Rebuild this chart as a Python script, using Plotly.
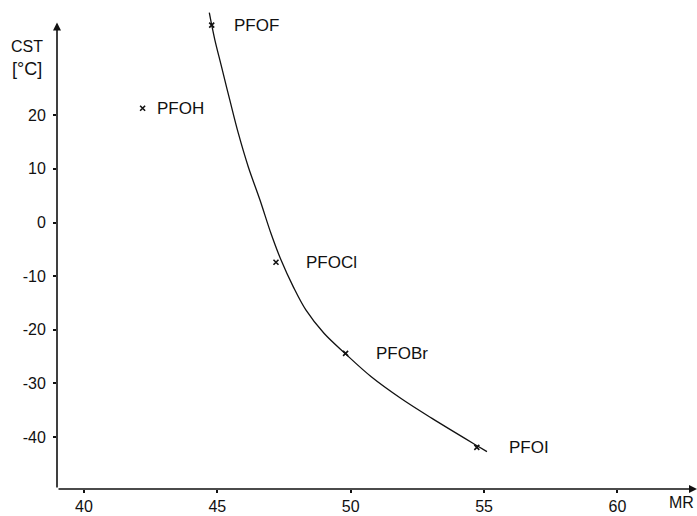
import plotly.graph_objects as go

# Measured compounds (MR, CST in °C)
compounds = ["PFOF", "PFOH", "PFOCl", "PFOBr", "PFOI"]
mr_values = [44.79, 42.20, 47.20, 49.81, 54.73]
cst_values = [36.8, 21.3, -7.4, -24.4, -41.9]

# Hand-drawn trend curve
curve_mr = [44.70, 44.79, 44.91, 45.16, 45.47, 45.79, 46.16, 46.60, 47.01, 47.39,
            47.85, 48.32, 49.00, 49.79, 50.76, 51.89, 53.05, 54.74, 55.11]
curve_cst = [39.1, 36.8, 34.0, 29.0, 22.8, 16.6, 10.4, 4.2, -2.0, -7.0,
             -12.0, -16.3, -20.65, -24.4, -28.7, -32.8, -36.5, -41.6, -42.7]

x_tickvals = [40, 45, 50, 55, 60]
x_ticktext = ["40", "45", "50", "55", "60"]
y_tickvals = [20, 10, 0, -10, -20, -30, -40]
y_ticktext = ["20", "10", "0", "-10", "-20", "-30", "-40"]

# style / placement (pixel offsets of labels from their marker)
label_xshift = [20, 12, 28, 28, 30]
FONT = "Liberation Sans, Arial, sans-serif"
INK = "#111111"
X_MIN, X_MAX = 38.99, 62.985
Y_MIN, Y_MAX = -49.67, 41.10
Y_AXIS_TOP = 37.3

fig = go.Figure()
fig.add_trace(go.Scatter(x=curve_mr, y=curve_cst, mode="lines",
                         line=dict(color=INK, width=1.3, shape="spline", smoothing=1.0),
                         hoverinfo="skip", showlegend=False))
fig.add_trace(go.Scatter(x=mr_values, y=cst_values, mode="markers",
                         marker=dict(symbol="x-thin", size=5, line=dict(color=INK, width=1.6)),
                         showlegend=False))

for name, xv, yv, dx in zip(compounds, mr_values, cst_values, label_xshift):
    fig.add_annotation(x=xv, y=yv, text=name, showarrow=False, xanchor="left",
                       yanchor="middle", xshift=dx, font=dict(family=FONT, size=17, color=INK))

# axis lines with arrow heads
fig.add_annotation(x=X_MIN, y=Y_AXIS_TOP, ax=X_MIN, ay=Y_MIN, xref="x", yref="y",
                   axref="x", ayref="y", showarrow=True, arrowhead=2, arrowsize=1,
                   arrowwidth=1.6, arrowcolor=INK, text="")
fig.add_annotation(x=X_MAX, y=Y_MIN, ax=X_MIN, ay=Y_MIN, xref="x", yref="y",
                   axref="x", ayref="y", showarrow=True, arrowhead=2, arrowsize=1,
                   arrowwidth=1.6, arrowcolor=INK, text="")

# axis titles
fig.add_annotation(x=62.42, y=Y_MIN, yshift=-13, text="MR", showarrow=False,
                   font=dict(family=FONT, size=16, color=INK))
fig.add_annotation(x=-0.047, y=0.9076, xref="paper", yref="paper", text="CST",
                   xanchor="center", yanchor="middle",
                   showarrow=False, font=dict(family=FONT, size=16, color=INK))
fig.add_annotation(x=-0.047, y=0.862, xref="paper", yref="paper", text="[°C]",
                   xanchor="center", yanchor="middle",
                   showarrow=False, font=dict(family=FONT, size=18, color=INK))

fig.update_layout(
    width=697, height=516,
    margin=dict(l=57, r=0, t=2, b=27),
    paper_bgcolor="white", plot_bgcolor="white",
    xaxis=dict(range=[X_MIN, X_MAX], tickvals=x_tickvals, ticktext=x_ticktext,
               showgrid=False, zeroline=False, showline=False,
               ticks="outside", ticklen=3, tickwidth=1.5, tickcolor=INK,
               tickfont=dict(family=FONT, size=16, color=INK)),
    yaxis=dict(range=[Y_MIN, Y_MAX], tickvals=y_tickvals, ticktext=y_ticktext,
               showgrid=False, zeroline=False, showline=False,
               ticks="outside", ticklen=3, tickwidth=1.5, tickcolor=INK,
               ticklabelstandoff=4,
               tickfont=dict(family=FONT, size=16, color=INK)),
)

fig.write_html("out.html")
